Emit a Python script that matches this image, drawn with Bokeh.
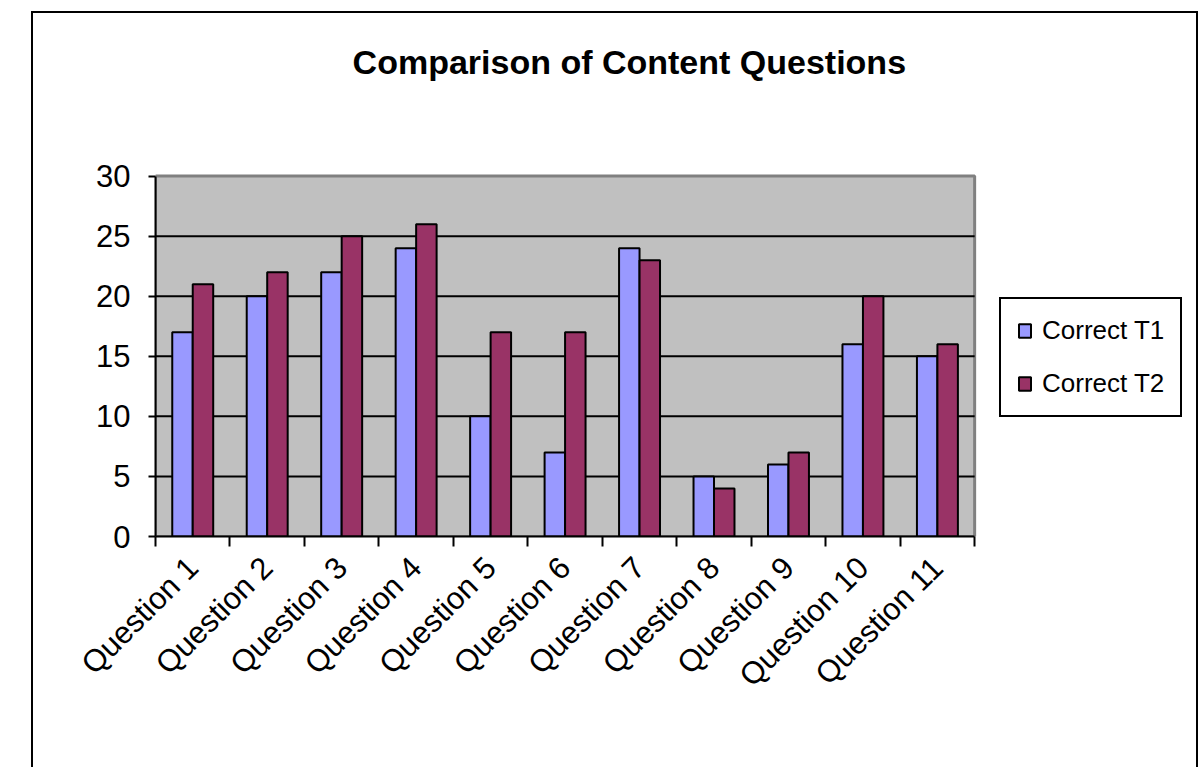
import math
from bokeh.plotting import figure
from bokeh.models import (Range1d, LinearAxis, FixedTicker, Legend, LegendItem, Label,
                          ColumnDataSource)
from bokeh.transform import dodge
from bokeh.embed import file_html
from bokeh.resources import INLINE

# ---- data ----
categories = ["Question 1", "Question 2", "Question 3", "Question 4", "Question 5",
              "Question 6", "Question 7", "Question 8", "Question 9", "Question 10",
              "Question 11"]
correct_t1 = [17, 20, 22, 24, 10, 7, 24, 5, 6, 16, 15]
correct_t2 = [21, 22, 25, 26, 17, 17, 23, 4, 7, 20, 16]
series_names = ["Correct T1", "Correct T2"]
y_ticks = [0, 5, 10, 15, 20, 25, 30]
title_text = "Comparison of Content Questions"

FONT = "Liberation Sans"
C1 = "#9999FF"
C2 = "#993366"

n = len(categories)
# each category occupies 2 x-units: centre at 2*i+1, boundaries at even numbers
centers = [2 * i + 1 for i in range(n)]
bounds = [2 * i for i in range(n + 1)]
x_max = 2 * n
y_max = y_ticks[-1]

# ---- layout (pixels) ----
W, H = 1163, 754
B_LEFT, B_RIGHT, B_TOP, B_BOTTOM = 122, 4, 4, 233
frame_w = W - B_LEFT - B_RIGHT
frame_h = H - B_TOP - B_BOTTOM
plot_w = 816          # width of the grey plot area
plot_h = 359          # height of the grey plot area
x_end = x_max * frame_w / plot_w
y_end = y_max * frame_h / plot_h
px_x = plot_w / x_max
px_y = plot_h / y_max

p = figure(width=W, height=H,
           x_range=Range1d(0, x_end), y_range=Range1d(0, y_end),
           output_backend="svg", toolbar_location=None, x_axis_location=None,
           min_border_left=B_LEFT, min_border_right=B_RIGHT,
           min_border_top=B_TOP, min_border_bottom=B_BOTTOM)
p.margin = (11, 0, 0, 31)
p.styles = {"border-top": "2px solid black", "border-left": "2px solid black",
            "border-right": "2px solid black", "box-sizing": "content-box"}

p.background_fill_color = "white"
p.border_fill_color = "white"
p.outline_line_color = None

for g in p.xgrid:
    g.visible = False
for g in p.ygrid:
    g.visible = False

# grey plot area with darker wall edge
p.quad(left=[0], right=[x_max], bottom=[0], top=[y_max],
       fill_color="#C0C0C0", line_color="#808080", line_width=3)
# horizontal gridlines
grid_y = y_ticks[1:-1]
p.segment(x0=[0] * len(grid_y), x1=[x_max] * len(grid_y), y0=grid_y, y1=grid_y,
          line_color="black", line_width=2)

# y axis
yax = p.yaxis[0]
yax.ticker = FixedTicker(ticks=y_ticks)
yax.bounds = (0, y_max)
yax.axis_line_color = "black"
yax.axis_line_width = 2
yax.major_tick_out = 7
yax.major_tick_in = 0
yax.major_tick_line_width = 2
yax.minor_tick_line_color = None
yax.major_label_text_font = FONT
yax.major_label_text_font_size = "31px"
yax.major_label_text_color = "black"
yax.major_label_standoff = 18

# x axes: boundary tick marks + category labels
bound_axis = LinearAxis(ticker=FixedTicker(ticks=bounds), bounds=(0, x_max))
bound_axis.axis_line_color = "black"
bound_axis.axis_line_width = 2
bound_axis.major_tick_out = 10
bound_axis.major_tick_in = 0
bound_axis.major_tick_line_width = 2
bound_axis.minor_tick_line_color = None
bound_axis.major_label_text_font_size = "0px"
bound_axis.major_label_text_color = None
bound_axis.major_label_standoff = 0
p.add_layout(bound_axis, "below")

cat_axis = LinearAxis(ticker=FixedTicker(ticks=centers), bounds=(0, x_max),
                      major_label_overrides={c: lab for c, lab in zip(centers, categories)})
cat_axis.axis_line_color = None
cat_axis.major_tick_line_color = None
cat_axis.minor_tick_line_color = None
cat_axis.major_label_orientation = math.pi / 4
cat_axis.major_label_text_font = FONT
cat_axis.major_label_text_font_size = "31px"
cat_axis.major_label_text_color = "black"
cat_axis.major_label_standoff = 10
p.add_layout(cat_axis, "below")

src = ColumnDataSource(dict(x=centers, cat=categories, t1=correct_t1, t2=correct_t2))
r1 = p.vbar(x=dodge("x", -0.275), top="t1", width=0.55, source=src,
            fill_color=C1, line_color="black", line_width=2)
r2 = p.vbar(x=dodge("x", 0.275), top="t2", width=0.55, source=src,
            fill_color=C2, line_color="black", line_width=2)

legend = Legend(items=[LegendItem(label=series_names[0], renderers=[r1]),
                       LegendItem(label=series_names[1], renderers=[r2])],
                location=(844, 119), orientation="vertical",
                border_line_color="black", border_line_width=2, border_line_alpha=1,
                background_fill_color="white", background_fill_alpha=1,
                padding=16, spacing=22, margin=0,
                glyph_width=15, glyph_height=17, label_standoff=10,
                label_text_font=FONT, label_text_font_size="26px",
                label_text_color="black")
p.add_layout(legend, "center")

# chart title, centred at page x~625, text sitting at page y~45-75
title = Label(x=(627 - 155) / px_x, y=(534 - 61) / px_y, text=title_text,
              text_font=FONT, text_font_style="bold", text_font_size="34px",
              text_align="center", text_baseline="alphabetic", text_color="black")
p.add_layout(title)

open("out.html", "w").write(file_html(p, INLINE))
